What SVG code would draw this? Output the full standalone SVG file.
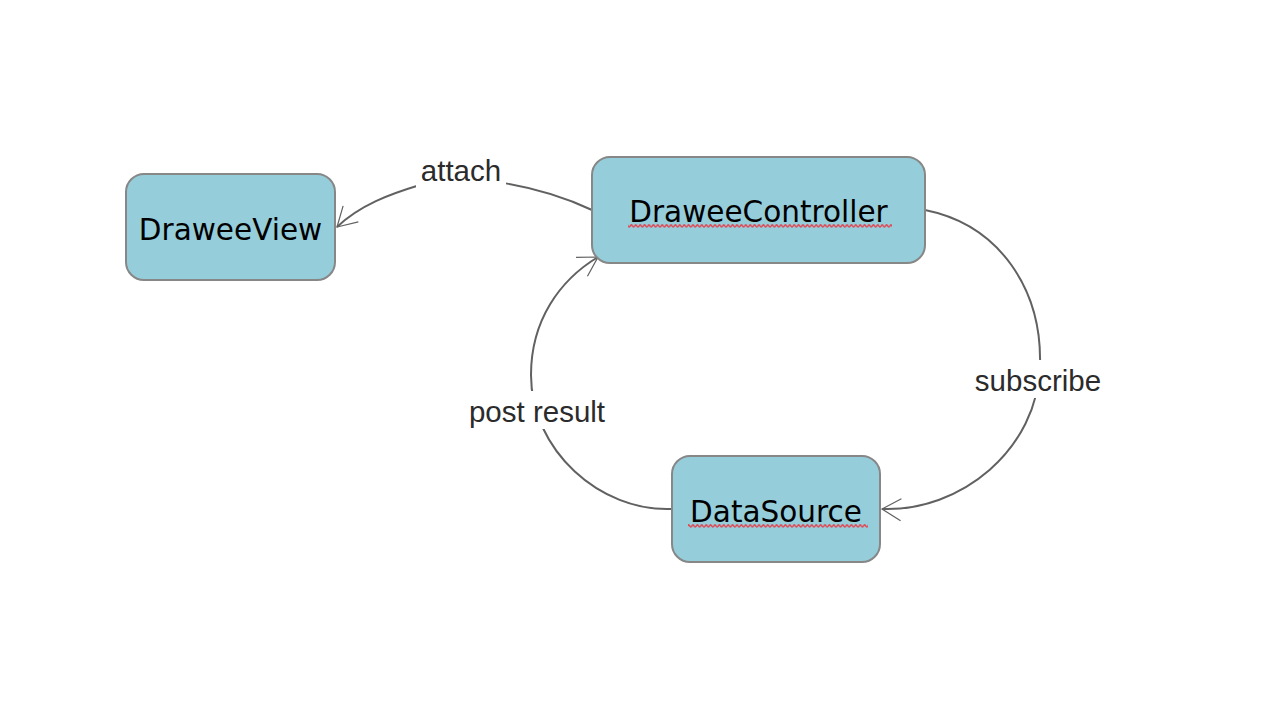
<svg xmlns="http://www.w3.org/2000/svg" width="1272" height="726" viewBox="0 0 1272 726">
<style>
.box{fill:#96cdda;stroke:#878787;stroke-width:2}
.nt{font-family:"DejaVu Sans",Verdana,sans-serif;font-size:29.5px;fill:#000;text-anchor:middle}
.lt{font-family:"Liberation Sans",Arial,sans-serif;font-size:29.5px;fill:#2b2b2b;text-anchor:middle}
.edge{fill:none;stroke:#616161;stroke-width:2}
</style>
<defs>
<marker id="arr" markerWidth="24" markerHeight="24" refX="21" refY="12" orient="auto" markerUnits="userSpaceOnUse">
<path d="M2 1 L21 12 L2 23" fill="none" stroke="#616161" stroke-width="1.2"/>
</marker>
<pattern id="sq" x="0" y="0" width="4.4" height="4" patternUnits="userSpaceOnUse">
<path d="M0 3.4 L2.2 0.6 L4.4 3.4" fill="none" stroke="#e04a56" stroke-width="1.5"/>
</pattern>
</defs>
<rect width="1272" height="726" fill="#fff"/>
<g id="connectors">
<path class="edge" d="M592 210 C545 188 470 170 420 185 C390 194 360 205 337 227" marker-end="url(#arr)"/>
<path class="edge" d="M925 210 C1000 225 1042 290 1040 365 C1038 450 960 512 882 509" marker-end="url(#arr)"/>
<path class="edge" d="M672 509 C600 512 531 450 531 375 C531 320 560 280 598 257" marker-end="url(#arr)"/>
<rect x="416" y="150" width="90" height="38" fill="#fff"/>
<text class="lt" x="461" y="181">attach</text>
<rect x="971" y="360" width="135" height="38" fill="#fff"/>
<text class="lt" x="1038" y="391">subscribe</text>
<rect x="463" y="391" width="148" height="38" fill="#fff"/>
<text class="lt" x="537" y="422">post result</text>
</g>
<g id="DraweeView">
<rect class="box" x="126" y="174" width="209" height="106" rx="18"/>
<text class="nt" x="230.5" y="240">DraweeView</text>
</g>
<g id="DraweeController">
<rect class="box" x="592" y="157" width="333" height="106" rx="18"/>
<text class="nt" x="758.5" y="222">DraweeController</text>
<rect x="628" y="224" width="264" height="4" fill="url(#sq)"/>
</g>
<g id="DataSource">
<rect class="box" x="672" y="456" width="208" height="106" rx="18"/>
<text class="nt" x="776" y="522">DataSource</text>
<rect x="688" y="524" width="180" height="4" fill="url(#sq)"/>
</g>
</svg>
